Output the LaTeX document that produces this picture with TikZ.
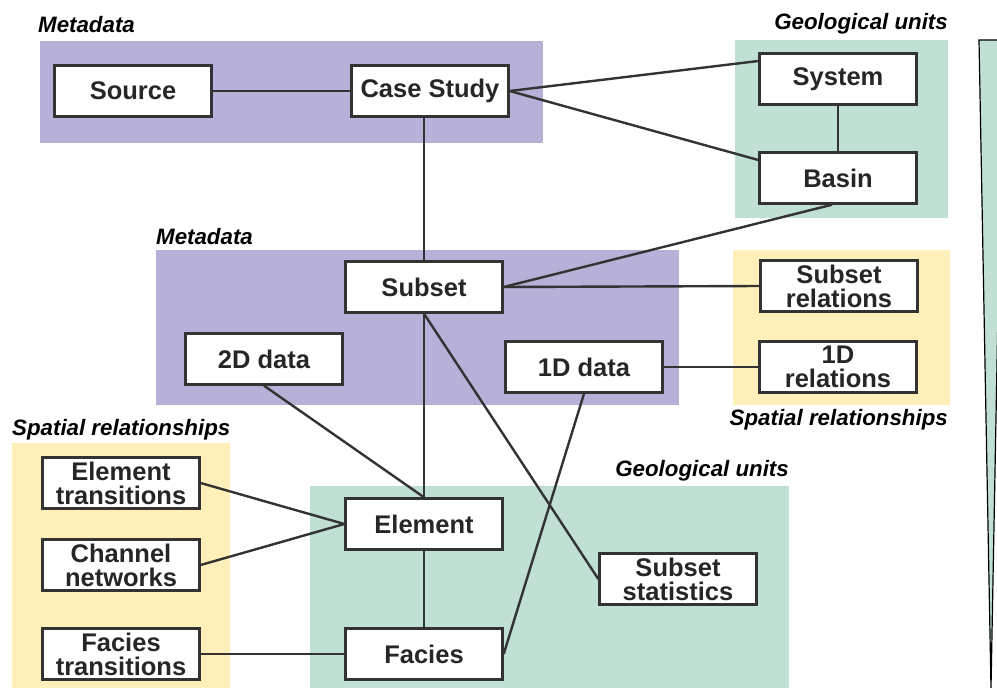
\documentclass[tikz,border=0pt]{standalone}
\usepackage{fontspec}
\setmainfont{Liberation Sans}
\usepackage{xcolor}
\usetikzlibrary{positioning, calc}

\definecolor{metafill}{RGB}{183,176,216}
\definecolor{geofill}{RGB}{191,224,210}
\definecolor{spatfill}{RGB}{255,240,186}
\definecolor{edgegray}{RGB}{51,51,51}

\tikzset{
    box/.style={draw=edgegray, line width=2.4pt, fill=white, minimum width=157pt, minimum height=51pt,
        inner sep=0pt, align=center, text=black!85, font=\fontsize{25.5}{24}\selectfont\bfseries},
    grouplabel/.style={inner sep=0pt, text=black, font=\fontsize{22.3}{22}\selectfont\bfseries\itshape},
    link/.style={draw=edgegray, line width=2.4pt}
}

\begin{document}
\begin{tikzpicture}[x=1pt, y=-1pt]
    \clip (0,0) rectangle (997,688);
    % 背景
    \fill[metafill] (40,41) rectangle (543,143);
    \fill[geofill] (735,40) rectangle (948,218);
    \fill[metafill] (156,250) rectangle (679,405);
    \fill[spatfill] (733,250) rectangle (950,405);
    \fill[spatfill] (12,443) rectangle (230,688);
    \fill[geofill] (310,486) rectangle (789,688);
    \filldraw[fill=geofill, draw=black, line width=1.2pt] (979,40) -- (1003,40) -- (991,688) -- cycle;

    % 标注
    \node[grouplabel, anchor=base west] (lmetaA) at (38,32) {Metadata};
    \node[grouplabel, anchor=base east] (lgeoA) at (948,30) {Geological units};
    \node[grouplabel, anchor=base west] (lmetaB) at (156,244) {Metadata};
    \node[grouplabel, anchor=base east] (lspatA) at (948,425) {Spatial relationships};
    \node[grouplabel, anchor=base west] (lspatB) at (12,435) {Spatial relationships};
    \node[grouplabel, anchor=base east] (lgeoB) at (789,476) {Geological units};

    % 节点
    \node[box] (src) at (133,91) {Source};
    \node[box] (cs) at (430,91) {Case Study};
    \node[box] (sys) at (838,79) {System};
    \node[box] (bas) at (838,178) {Basin};
    \node[box] (sub) at (424,287) {Subset};
    \node[box] (dtwo) at (264,359) {2D data};
    \node[box] (done) at (584,367) {1D data};
    \node[box] (subrel) at (839,286) {Subset\\relations};
    \node[box] (onerel) at (838,367) {1D\\relations};
    \node[box] (eltr) at (121,483) {Element\\transitions};
    \node[box] (chan) at (121,565) {Channel\\networks};
    \node[box] (factr) at (121,654) {Facies\\transitions};
    \node[box] (el) at (424,524) {Element};
    \node[box] (fac) at (424,654) {Facies};
    \node[box] (stat) at (678,579) {Subset\\statistics};

    % 连线
    \draw[link] (src) -- (cs);
    \draw[link] (cs.east) -- ([yshift=18pt]sys.west);
    \draw[link] (cs.east) -- ([yshift=18pt]bas.west);
    \draw[link] (sys) -- (bas);
    \draw[link] ([xshift=-6pt]bas.south) -- (sub.east);
    \draw[link] (sub.east) -- (subrel.west);
    \draw[link] (sub.north |- cs.south) -- (sub.north);
    \draw[link] (sub.south) -- (el.north);
    \draw[link] (sub.south) -- (stat.west);
    \draw[link] (dtwo.south) -- (el.north);
    \draw[link] (done.east) -- (onerel.west);
    \draw[link] (done.south) -- (fac.east);
    \draw[link] (eltr.east) -- (el.west);
    \draw[link] (chan.east) -- (el.west);
    \draw[link] (factr) -- (fac);
    \draw[link] (el) -- (fac);
\end{tikzpicture}
\end{document}
